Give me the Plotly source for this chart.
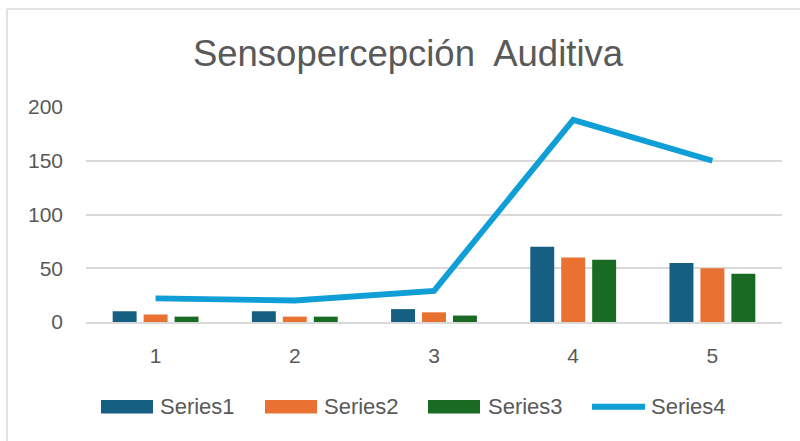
import plotly.graph_objects as go

categories = [1, 2, 3, 4, 5]
series1 = [10, 10, 12, 70, 55]
series2 = [7, 5, 9, 60, 50]
series3 = [5, 5, 6, 58, 45]
series4 = [22, 20, 29, 188, 150]
names = ["Series1", "Series2", "Series3", "Series4"]
colors = ["#156082", "#E97132", "#196B24", "#0F9ED5"]
y_ticks = [0, 50, 100, 150, 200]

W, H = 800, 441
ML, MR, MT, MB = 86, 18, 107, 119
PW, PH = W - ML - MR, H - MT - MB
FONT = "Liberation Sans, Arial, sans-serif"
GREY = "#595959"
GRID = "#D9D9D9"


def px(x):
    return (x - ML) / PW


def py(y):
    return (H - MB - y) / PH


fig = go.Figure()
for name, vals, col in zip(names[:3], [series1, series2, series3], colors[:3]):
    fig.add_trace(go.Bar(x=categories, y=vals, name=name, marker=dict(color=col, line=dict(width=0)),
                         showlegend=False))
fig.add_trace(go.Scatter(x=categories, y=series4, name=names[3], mode="lines",
                         line=dict(color=colors[3], width=5.8), showlegend=False))

shapes = []
annotations = []
# chart border (top and left visible)
shapes.append(dict(type="line", xref="paper", yref="paper", x0=px(7), x1=px(820), y0=py(9), y1=py(9),
                   line=dict(color=GRID, width=1.5)))
shapes.append(dict(type="line", xref="paper", yref="paper", x0=px(7), x1=px(7), y0=py(9), y1=py(460),
                   line=dict(color=GRID, width=1.5)))

# legend
sym_x = [101, 265, 428]
txt_x = [158, 321.5, 485.5, 649]
ly = 406.7
for sx, col in zip(sym_x, colors[:3]):
    shapes.append(dict(type="rect", xref="paper", yref="paper", x0=px(sx), x1=px(sx + 52),
                       y0=py(ly - 6.7), y1=py(ly + 6.7), fillcolor=col, line=dict(width=0)))
shapes.append(dict(type="line", xref="paper", yref="paper", x0=px(592), x1=px(645), y0=py(ly), y1=py(ly),
                   line=dict(color=colors[3], width=6)))
for tx, name in zip(txt_x, names):
    annotations.append(dict(x=px(tx), y=py(ly), xref="paper", yref="paper", text=name, showarrow=False,
                            xanchor="left", yanchor="middle", font=dict(family=FONT, size=22, color=GREY)))

fig.update_layout(
    width=W, height=H,
    margin=dict(l=ML, r=MR, t=MT, b=MB),
    paper_bgcolor="white", plot_bgcolor="white",
    barmode="group", bargap=0.333, bargroupgap=0.226,
    title=dict(text="Sensopercepción  Auditiva", x=408 / W, xref="container", xanchor="center",
               y=1 - 53 / H, yref="container", yanchor="middle",
               font=dict(family=FONT, size=36.5, color=GREY)),
    font=dict(family=FONT, color=GREY),
    shapes=shapes, annotations=annotations,
    xaxis=dict(range=[0.5, 5.5], tickvals=categories, showgrid=False, showline=True, linecolor=GRID,
               linewidth=1.5, ticks="", tickfont=dict(size=21, color=GREY), ticklabelstandoff=14,
               zeroline=False, fixedrange=True),
    yaxis=dict(range=[0, 200], tickvals=y_ticks, showgrid=True, gridcolor=GRID, gridwidth=1.5,
               zeroline=False, showline=False, ticks="", tickfont=dict(size=21, color=GREY),
               ticklabelstandoff=22, fixedrange=True),
)

fig.write_html("out.html", config={"displayModeBar": False},
               post_script="document.body.style.margin='0';document.body.style.overflow='hidden';")
